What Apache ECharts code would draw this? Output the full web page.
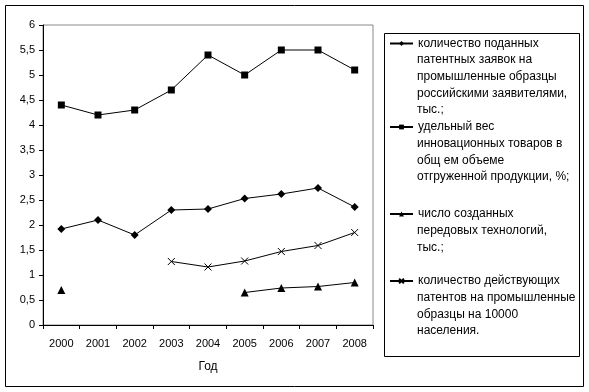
<!DOCTYPE html>
<html><head><meta charset="utf-8">
<script src="https://cdn.jsdelivr.net/npm/echarts@6/dist/echarts.min.js"></script>
<style>html,body{margin:0;padding:0;background:#fff}#c{width:589px;height:392px}</style>
</head><body><div id="c"></div>
<script>
const categories = ['2000','2001','2002','2003','2004','2005','2006','2007','2008'];
const applications = [1.92, 2.1, 1.8, 2.3, 2.32, 2.53, 2.62, 2.74, 2.36];
const innovShare = [4.4, 4.2, 4.3, 4.7, 5.4, 5.0, 5.5, 5.5, 5.1];
const technologies = [0.7, null, null, null, null, 0.65, 0.74, 0.77, 0.85];
const patents = [null, null, null, 1.27, 1.16, 1.28, 1.47, 1.59, 1.85];
const names = [
  'количество поданных\nпатентных заявок на\nпромышленные образцы\nроссийскими заявителями,\nтыс.;',
  'удельный вес\nинновационных товаров в\nобщ ем объеме\nотгруженной продукции, %;',
  'число созданных\nпередовых технологий,\nтыс.;',
  'количество действующих\nпатентов на промышленные\nобразцы на 10000\nнаселения.'
];
const legendCenters = [43.5, 127, 214, 281];

const font = 'Arial, "Liberation Sans", sans-serif';
const narrow = '"Liberation Sans Narrow", "Arial Narrow", Arial, sans-serif';
const LH = 16.6;
const chart = echarts.init(document.getElementById('c'));
const crossPath = 'path://M0,0L10,10M10,0L0,10';
function mk(name, data, symbol, size, extra) {
  return Object.assign({
    name, type: 'line', data, symbol, symbolSize: size, showAllSymbol: true,
    connectNulls: false, animation: false,
    lineStyle: { color: '#000', width: 1 },
    itemStyle: { color: '#000', borderColor: '#000', borderWidth: 0 },
    emphasis: { disabled: true }
  }, extra || {});
}
const restTexts = names.map((n, i) => ({
  type: 'text', left: 417, top: legendCenters[i] + LH / 2, z: 10,
  style: { text: n.split('\n').slice(1).join('\n'), font: '12px ' + font, fill: '#000', lineHeight: LH }
}));
chart.setOption({
  backgroundColor: '#fff',
  animation: false,
  textStyle: { fontFamily: font },
  graphic: [
    { type: 'rect', shape: { x: 5.5, y: 5.5, width: 578, height: 381 }, style: { fill: 'none', stroke: '#000', lineWidth: 1 }, z: 0 },
    { type: 'rect', shape: { x: 384.5, y: 33.5, width: 195, height: 323 }, style: { fill: 'none', stroke: '#000', lineWidth: 1 }, z: 0 }
  ].concat(restTexts),
  legend: names.map((n, i) => ({
    data: [n], left: 389, top: legendCenters[i] - LH / 2, orient: 'vertical',
    padding: 0, itemWidth: 23, itemHeight: 6, itemGap: 0, selectedMode: false,
    formatter: s => s.split('\n')[0],
    textStyle: { fontFamily: font, fontSize: 12, color: '#000', lineHeight: LH },
    align: 'left'
  })),
  grid: { left: 43, top: 25, right: 216, bottom: 67, show: true, borderColor: '#888', borderWidth: 1, backgroundColor: '#fff' },
  xAxis: {
    type: 'category', data: categories, boundaryGap: true,
    axisLine: { lineStyle: { color: '#000', width: 1 } },
    axisTick: { show: true, inside: false, length: 4, alignWithLabel: false, lineStyle: { color: '#000' } },
    axisLabel: { color: '#000', fontSize: 11, fontFamily: narrow, margin: 13 },
    name: 'Год', nameLocation: 'middle', nameGap: 36,
    nameTextStyle: { color: '#000', fontSize: 12, fontFamily: font }
  },
  yAxis: {
    type: 'value', min: 0, max: 6, interval: 0.5,
    axisLine: { show: true, lineStyle: { color: '#000', width: 1 } },
    axisTick: { show: true, length: 4, lineStyle: { color: '#000' } },
    splitLine: { show: false },
    axisLabel: { color: '#000', fontSize: 11, fontFamily: narrow, margin: 8,
      formatter: v => String(v).replace('.', ',') }
  },
  series: [
    mk(names[0], applications, 'diamond', 8),
    mk(names[1], innovShare, 'rect', 7),
    mk(names[2], technologies, 'triangle', 8),
    mk(names[3], patents, crossPath, 7, { itemStyle: { color: 'none', borderColor: '#000', borderWidth: 1 } })
  ]
});
</script></body></html>
